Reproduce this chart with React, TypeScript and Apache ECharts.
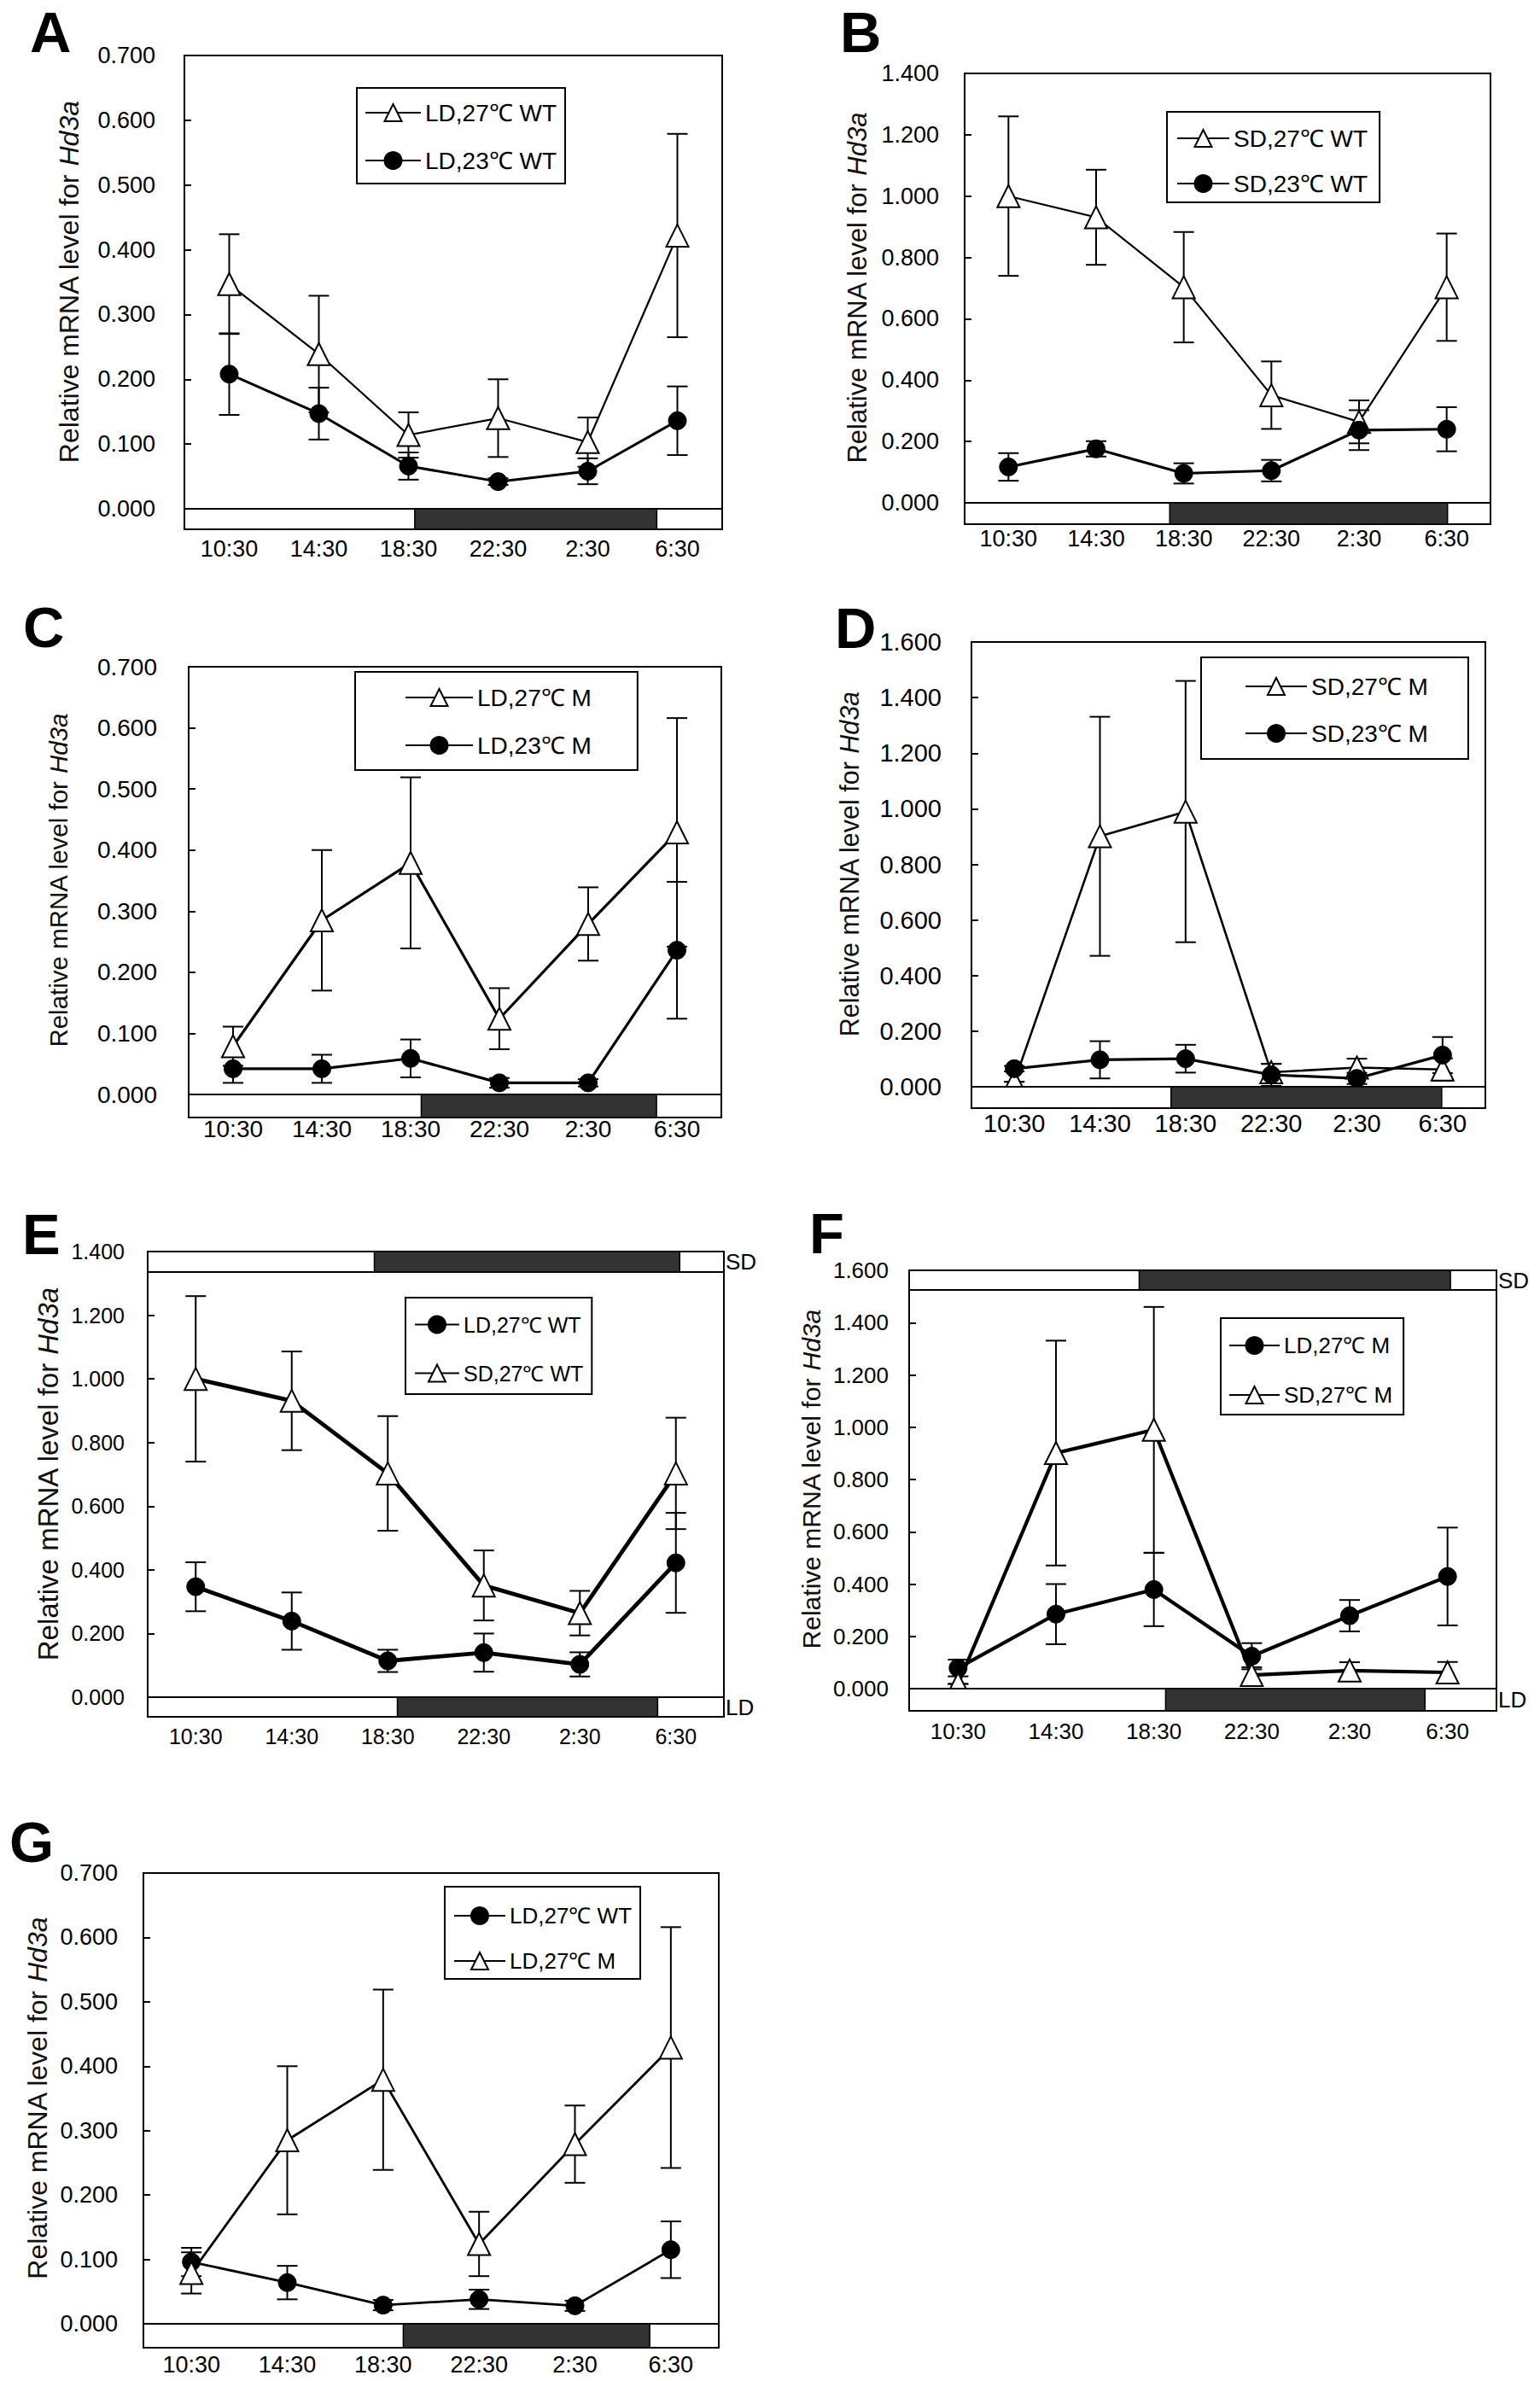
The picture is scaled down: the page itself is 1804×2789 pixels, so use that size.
import { useEffect, useRef } from 'react';
import * as echarts from 'echarts';

const FONT = '"Liberation Sans", Arial, sans-serif';

// sampling times (x axis)
const times = ['10:30', '14:30', '18:30', '22:30', '2:30', '6:30'];

// relative Hd3a mRNA level, mean and SD per time point
const ld27wt = [0.347, 0.239, 0.114, 0.14, 0.103, 0.422];
const ld27wtSd = [0.077, 0.09, 0.035, 0.06, 0.038, 0.157];
const ld23wt = [0.208, 0.147, 0.066, 0.042, 0.058, 0.136];
const ld23wtSd = [0.063, 0.04, 0.021, 0.005, 0.02, 0.053];

const sd27wt = [1.0, 0.931, 0.703, 0.351, 0.264, 0.703];
const sd27wtSd = [0.26, 0.155, 0.18, 0.11, 0.07, 0.175];
const sd23wt = [0.117, 0.176, 0.096, 0.105, 0.237, 0.24];
const sd23wtSd = [0.045, 0.025, 0.033, 0.035, 0.065, 0.072];

const ld27m = [0.079, 0.285, 0.379, 0.124, 0.279, 0.429];
const ld27mSd = [0.032, 0.115, 0.14, 0.05, 0.06, 0.187];
const ld23m = [0.042, 0.042, 0.059, 0.019, 0.019, 0.236];
const ld23mSd = [0.023, 0.023, 0.031, 0.008, 0.006, 0.112];

const sd27m = [0.018, 0.901, 0.99, 0.052, 0.069, 0.062];
const sd27mSd = [0, 0.43, 0.47, 0.03, 0.032, 0.04];
const sd23m = [0.065, 0.097, 0.101, 0.043, 0.03, 0.114];
const sd23mSd = [0.01, 0.067, 0.05, 0.04, 0.02, 0.065];

// panel G uses a separate WT run
const ld27wtG = [0.096, 0.064, 0.029, 0.038, 0.028, 0.115];
const ld27wtGSd = [0.022, 0.026, 0.008, 0.015, 0.008, 0.044];

// dark period, in category bands from the left edge (6 bands)
const ldNight: Record<string, number[]> = {
  A: [2.57, 5.27],
  C: [2.62, 5.27],
  E: [2.6, 5.31],
  F: [2.62, 5.27],
  G: [2.71, 5.28],
};
const sdNight: Record<string, number[]> = {
  B: [2.34, 5.51],
  D: [2.33, 5.49],
  E: [2.36, 5.54],
  F: [2.35, 5.53],
};

type Line = {
  name: string;
  values: number[];
  sd: number[];
  filled: boolean;
  width: number;
};

type PanelCfg = {
  letter: string;
  div: [number, number, number, number];
  grid: [number, number, number, number];
  letterPos: [number, number];
  yMax: number;
  yStep: number;
  barH: number;
  topBarH?: number;
  ld?: number[];
  sd?: number[];
  lines: Line[];
  legend: { left: number; top: number; pad: number[]; gap: number; itemWidth: number; fontSize: number };
  xGap: number;
  yGap: number;
  nameGap: number;
  fontSize: number;
  nameSize: number;
};

const panels: PanelCfg[] = [
  {
    letter: 'A',
    div: [0, 0, 900, 680],
    grid: [216, 65, 630, 531],
    letterPos: [35, 37],
    yMax: 0.7,
    yStep: 0.1,
    barH: 24,
    ld: ldNight.A,
    lines: [
      { name: 'LD,27℃ WT', values: ld27wt, sd: ld27wtSd, filled: false, width: 2.2 },
      { name: 'LD,23℃ WT', values: ld23wt, sd: ld23wtSd, filled: true, width: 3 },
    ],
    legend: { left: 418, top: 103, pad: [15, 10, 13, 9], gap: 28, itemWidth: 65, fontSize: 28 },
    xGap: 47,
    yGap: 34,
    nameGap: 119,
    fontSize: 27,
    nameSize: 32,
  },
  {
    letter: 'B',
    div: [900, 0, 904, 680],
    grid: [230, 86, 616, 503],
    letterPos: [84, 37],
    yMax: 1.4,
    yStep: 0.2,
    barH: 25,
    sd: sdNight.B,
    lines: [
      { name: 'SD,27℃ WT', values: sd27wt, sd: sd27wtSd, filled: false, width: 2.2 },
      { name: 'SD,23℃ WT', values: sd23wt, sd: sd23wtSd, filled: true, width: 3.2 },
    ],
    legend: { left: 467, top: 131, pad: [17, 14, 8, 11], gap: 25, itemWidth: 61, fontSize: 28 },
    xGap: 42,
    yGap: 30,
    nameGap: 110,
    fontSize: 27,
    nameSize: 31,
  },
  {
    letter: 'C',
    div: [0, 680, 900, 700],
    grid: [221, 101, 624, 501],
    letterPos: [27, 54],
    yMax: 0.7,
    yStep: 0.1,
    barH: 27,
    ld: ldNight.C,
    lines: [
      { name: 'LD,27℃ M', values: ld27m, sd: ld27mSd, filled: false, width: 3.2 },
      { name: 'LD,23℃ M', values: ld23m, sd: ld23mSd, filled: true, width: 3.2 },
    ],
    legend: { left: 416, top: 107, pad: [16, 54, 15, 58], gap: 28, itemWidth: 79, fontSize: 28 },
    xGap: 40,
    yGap: 37,
    nameGap: 138,
    fontSize: 28,
    nameSize: 29.5,
  },
  {
    letter: 'D',
    div: [900, 680, 904, 700],
    grid: [238, 72, 602, 521],
    letterPos: [78, 55],
    yMax: 1.6,
    yStep: 0.2,
    barH: 25,
    sd: sdNight.D,
    lines: [
      { name: 'SD,27℃ M', values: sd27m, sd: sd27mSd, filled: false, width: 2.6 },
      { name: 'SD,23℃ M', values: sd23m, sd: sd23mSd, filled: true, width: 3.2 },
    ],
    legend: { left: 507, top: 90, pad: [20, 47, 16, 51], gap: 27, itemWidth: 72, fontSize: 28 },
    xGap: 43,
    yGap: 35,
    nameGap: 128,
    fontSize: 29,
    nameSize: 30.5,
  },
  {
    letter: 'E',
    div: [0, 1380, 900, 710],
    grid: [173, 86, 675, 522],
    letterPos: [26, 65],
    yMax: 1.4,
    yStep: 0.2,
    barH: 23,
    topBarH: 24,
    ld: ldNight.E,
    sd: sdNight.E,
    lines: [
      { name: 'LD,27℃ WT', values: ld27wt, sd: ld27wtSd, filled: true, width: 4.8 },
      { name: 'SD,27℃ WT', values: sd27wt, sd: sd27wtSd, filled: false, width: 4.8 },
    ],
    legend: { left: 475, top: 140, pad: [19, 10, 12, 10], gap: 32, itemWidth: 52, fontSize: 25 },
    xGap: 46,
    yGap: 27,
    nameGap: 90,
    fontSize: 25,
    nameSize: 33,
  },
  {
    letter: 'F',
    div: [900, 1380, 904, 710],
    grid: [165, 108, 688, 490],
    letterPos: [48, 64],
    yMax: 1.6,
    yStep: 0.2,
    barH: 26,
    topBarH: 23,
    ld: ldNight.F,
    sd: sdNight.F,
    lines: [
      { name: 'LD,27℃ M', values: ld27m, sd: ld27mSd, filled: true, width: 4.2 },
      { name: 'SD,27℃ M', values: sd27m, sd: sd27mSd, filled: false, width: 4.2 },
    ],
    legend: { left: 530, top: 164, pad: [19, 13, 10, 9], gap: 32, itemWidth: 59, fontSize: 26 },
    xGap: 50,
    yGap: 24,
    nameGap: 91,
    fontSize: 26,
    nameSize: 30,
  },
  {
    letter: 'G',
    div: [0, 2090, 900, 699],
    grid: [168, 104, 674, 528],
    letterPos: [11, 67],
    yMax: 0.7,
    yStep: 0.1,
    barH: 28,
    ld: ldNight.G,
    lines: [
      { name: 'LD,27℃ WT', values: ld27wtG, sd: ld27wtGSd, filled: true, width: 2.8 },
      { name: 'LD,27℃ M', values: ld27m, sd: ld27mSd, filled: false, width: 2.8 },
    ],
    legend: { left: 521, top: 120, pad: [21, 10, 8, 10], gap: 27, itemWidth: 60, fontSize: 26 },
    xGap: 48,
    yGap: 30,
    nameGap: 101,
    fontSize: 27,
    nameSize: 32,
  },
];

function buildOption(cfg: PanelCfg): echarts.EChartsOption {
  const series: any[] = [];

  // light/dark bars drawn from the grid rectangle
  series.push({
    type: 'custom',
    data: [[0, 0]],
    clip: false,
    silent: true,
    z: 4,
    renderItem: (params: any) => {
      const cs = params.coordSys;
      const px = (u: number) => cs.x + (cs.width * u) / 6;
      const children: any[] = [];
      const addBar = (y: number, h: number, night: number[], label?: string) => {
        children.push({
          type: 'rect',
          shape: { x: cs.x, y, width: cs.width, height: h },
          style: { fill: '#fff', stroke: '#000', lineWidth: 2 },
        });
        children.push({
          type: 'rect',
          shape: { x: px(night[0]), y, width: px(night[1]) - px(night[0]), height: h },
          style: { fill: '#333', stroke: '#000', lineWidth: 1.5 },
        });
        if (label) {
          children.push({
            type: 'text',
            x: cs.x + cs.width + 2,
            y: y + h / 2,
            style: {
              text: label,
              fill: '#000',
              fontSize: 26,
              fontFamily: FONT,
              align: 'left',
              verticalAlign: 'middle',
            },
          });
        }
      };
      const both = cfg.topBarH !== undefined;
      const bottomNight = cfg.ld ?? cfg.sd!;
      addBar(cs.y + cs.height, cfg.barH, bottomNight, both ? 'LD' : undefined);
      if (both && cfg.sd) addBar(cs.y, cfg.topBarH!, cfg.sd, 'SD');
      return { type: 'group', children };
    },
  });

  cfg.lines.forEach((ln) => {
    series.push({
      type: 'custom',
      data: ln.values.map((v, i) => [i, v - ln.sd[i], v + ln.sd[i]]),
      silent: true,
      z: 1,
      renderItem: (_p: any, api: any) => {
        const i = api.value(0);
        const lo = api.coord([i, api.value(1)]);
        const hi = api.coord([i, api.value(2)]);
        const w = 12;
        const style = { stroke: '#000', lineWidth: 2 };
        return {
          type: 'group',
          children: [
            { type: 'line', shape: { x1: lo[0], y1: lo[1], x2: hi[0], y2: hi[1] }, style },
            { type: 'line', shape: { x1: hi[0] - w, y1: hi[1], x2: hi[0] + w, y2: hi[1] }, style },
            { type: 'line', shape: { x1: lo[0] - w, y1: lo[1], x2: lo[0] + w, y2: lo[1] }, style },
          ],
        };
      },
    });
    series.push({
      type: 'line',
      name: ln.name,
      data: ln.values,
      symbol: ln.filled ? 'circle' : 'triangle',
      symbolSize: ln.filled ? 21 : 26,
      showAllSymbol: true,
      lineStyle: { color: '#000', width: ln.width },
      itemStyle: {
        color: ln.filled ? '#000' : '#fff',
        borderColor: '#000',
        borderWidth: ln.filled ? 1 : 2,
      },
      z: 3,
    });
  });

  const [gl, gt, gw, gh] = cfg.grid;
  const lg = cfg.legend;

  return {
    animation: false,
    backgroundColor: 'transparent',
    textStyle: { fontFamily: FONT },
    grid: {
      left: gl,
      top: gt,
      width: gw,
      height: gh,
      show: true,
      borderColor: '#000',
      borderWidth: 2,
      containLabel: false,
    },
    graphic: [
      {
        type: 'text',
        x: cfg.letterPos[0],
        y: cfg.letterPos[1],
        style: {
          text: cfg.letter,
          fill: '#000',
          fontSize: 67,
          fontWeight: 'bold',
          fontFamily: FONT,
          align: 'left',
          verticalAlign: 'middle',
        },
      },
    ],
    legend: {
      orient: 'vertical',
      left: lg.left,
      top: lg.top,
      data: cfg.lines.map((l) => l.name),
      selectedMode: false,
      backgroundColor: '#fff',
      borderColor: '#000',
      borderWidth: 2,
      padding: lg.pad,
      itemGap: lg.gap,
      itemWidth: lg.itemWidth,
      itemHeight: 25,
      textStyle: { color: '#000', fontSize: lg.fontSize, fontFamily: FONT },
      z: 10,
    },
    xAxis: {
      type: 'category',
      data: times,
      boundaryGap: true,
      axisLine: { lineStyle: { color: '#000', width: 2 } },
      axisTick: { inside: true, length: 8, lineStyle: { color: '#000', width: 2 } },
      axisLabel: {
        color: '#000',
        fontSize: cfg.fontSize,
        fontFamily: FONT,
        margin: cfg.xGap,
        verticalAlign: 'middle',
      },
      splitLine: { show: false },
    },
    yAxis: {
      type: 'value',
      min: 0,
      max: cfg.yMax,
      interval: cfg.yStep,
      axisLine: { show: true, lineStyle: { color: '#000', width: 2 } },
      axisTick: { show: true, inside: true, length: 8, lineStyle: { color: '#000', width: 2 } },
      axisLabel: {
        color: '#000',
        fontSize: cfg.fontSize,
        fontFamily: FONT,
        margin: cfg.yGap,
        formatter: (v: number) => v.toFixed(3),
      },
      splitLine: { show: false },
      name: '{a|Relative mRNA level for }{b|Hd3a}',
      nameLocation: 'middle',
      nameRotate: 90,
      nameGap: cfg.nameGap,
      nameTextStyle: {
        rich: {
          a: { fontSize: cfg.nameSize, fontFamily: FONT, color: '#111' },
          b: { fontSize: cfg.nameSize, fontFamily: FONT, color: '#111', fontStyle: 'italic' },
        },
      },
    },
    series,
  };
}

function Panel({ cfg }: { cfg: PanelCfg }) {
  const ref = useRef<HTMLDivElement>(null);

  useEffect(() => {
    if (!ref.current) return;
    const chart = echarts.init(ref.current, undefined, { renderer: 'svg' });
    chart.setOption(buildOption(cfg));
    return () => {
      chart.dispose();
    };
  }, [cfg]);

  const [x, y, w, h] = cfg.div;
  return <div ref={ref} style={{ position: 'absolute', left: x, top: y, width: w, height: h }} />;
}

export default function App() {
  return (
    <div
      style={{
        position: 'absolute',
        left: 0,
        top: 0,
        width: 1804,
        height: 2789,
        background: '#fff',
        overflow: 'hidden',
      }}
    >
      {panels.map((p) => (
        <Panel key={p.letter} cfg={p} />
      ))}
    </div>
  );
}
